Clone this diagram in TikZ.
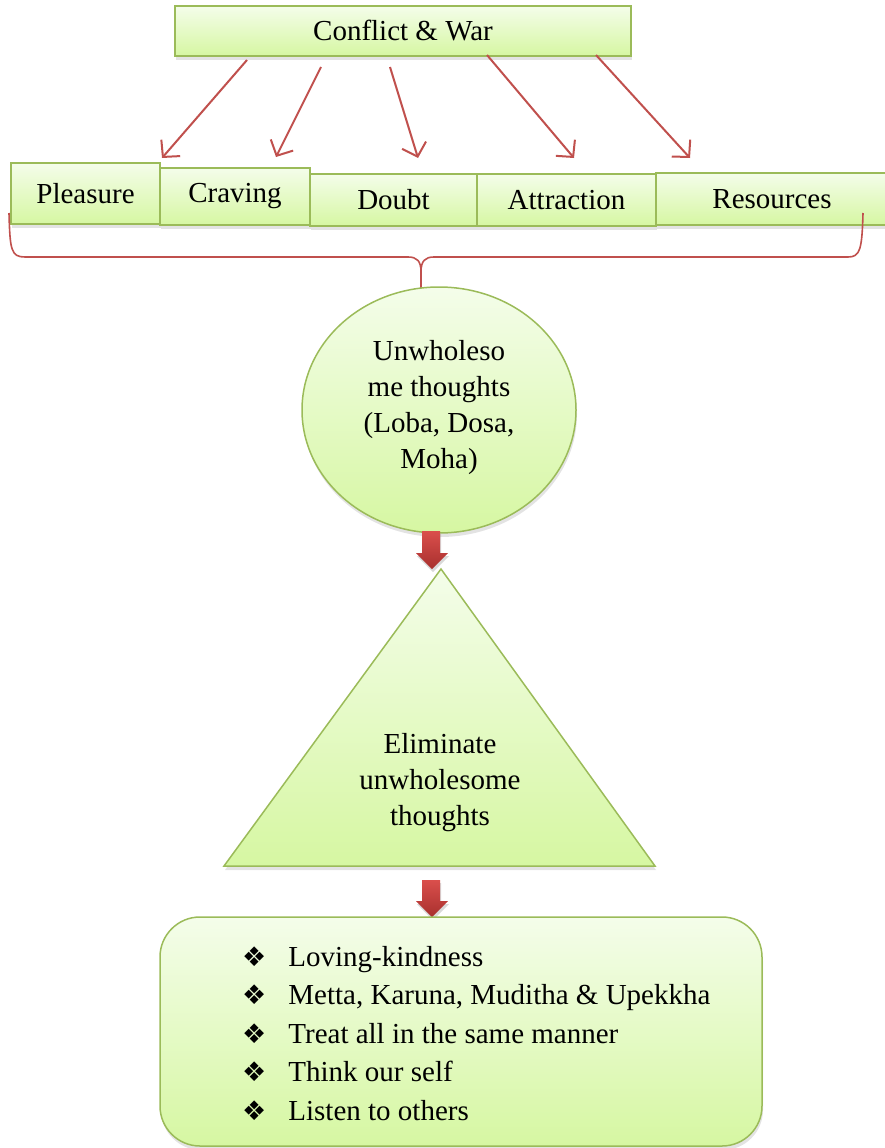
\documentclass[tikz,border=0pt]{standalone}
\usepackage{fontspec}
\setmainfont{Liberation Serif}
\newfontfamily\tnr{Liberation Serif}
\newfontfamily\symfont{DejaVu Sans}
\usetikzlibrary{arrows.meta,shapes.geometric,shadows}
\definecolor{gborder}{HTML}{9BBB59}
\definecolor{gtop}{HTML}{F4FDEA}
\definecolor{gbot}{HTML}{D6F7A2}
\definecolor{redline}{HTML}{C0504D}
\definecolor{redlight}{HTML}{DA4F4C}
\definecolor{reddark}{HTML}{A8302E}
\newcommand{\bul}{{\symfont\fontsize{27}{38.5}\selectfont ❖}\hspace{22pt}}
\tikzset{
  gshadow/.style={drop shadow={opacity=0.22,shadow xshift=1pt,shadow yshift=-4pt}},
  greenbox/.style={draw=gborder, line width=1.5pt, top color=gtop, bottom color=gbot,
    gshadow, font=\tnr\fontsize{29}{36}\selectfont, inner sep=0pt},
  redarrow/.style={draw=redline, line width=2pt,
    -{Straight Barb[length=12pt,width=25pt,line width=2pt]}},
  bracepath/.style={draw=redline, line width=1.6pt},
  blockarrow/.style={top color=redlight, bottom color=reddark, draw=none,
    drop shadow={opacity=0.3,shadow xshift=1pt,shadow yshift=-3pt}},
  bodytext/.style={font=\tnr\fontsize{29}{36}\selectfont, align=center, inner sep=0pt}
}
\begin{document}
\begin{tikzpicture}[x=1pt,y=-1pt]
\useasboundingbox (0,0) rectangle (885,1148);

% top box
\node[greenbox, minimum width=456pt, minimum height=50pt] (cw) at (403,31) {Conflict \& War};

% row of boxes
\node[greenbox, minimum width=149pt, minimum height=61pt] (pleasure) at (85.5,193.5) {Pleasure};
\node[greenbox, minimum width=150pt, minimum height=57pt] (craving) at (235,196.5) {Craving};
\node[greenbox, minimum width=167pt, minimum height=52pt] (doubt) at (393.5,200) {Doubt};
\node[greenbox, minimum width=179pt, minimum height=52pt] (attraction) at (566.5,200) {Attraction};
\node[greenbox, minimum width=232pt, minimum height=52pt] (resources) at (772,199) {Resources};

% arrows from Conflict & War
\coordinate (s1) at (247,60);  \coordinate (e1) at (162,158);
\coordinate (s2) at (321,67);  \coordinate (e2) at (276,157);
\coordinate (s3) at (390,67);  \coordinate (e3) at (418,158);
\coordinate (s4) at (487,55);  \coordinate (e4) at (574,158);
\coordinate (s5) at (596,55);  \coordinate (e5) at (690,158);
\draw[redarrow] (s1) -- (e1);
\draw[redarrow] (s2) -- (e2);
\draw[redarrow] (s3) -- (e3);
\draw[redarrow] (s4) -- (e4);
\draw[redarrow] (s5) -- (e5);

% brace
\draw[bracepath] (9,213) .. controls (10,250) and (11,257) .. (25,257) -- (408,257)
  .. controls (417,257) and (421,261) .. (421,272) -- (421,300);
\draw[bracepath] (863,213) .. controls (862,250) and (860,257) .. (848,257) -- (434,257)
  .. controls (425,257) and (421,261) .. (421,272);

% ellipse
\node[ellipse, draw=gborder, line width=1.5pt, top color=gtop, bottom color=gbot, gshadow,
  minimum width=274pt, minimum height=246pt, inner sep=0pt] (unwh) at (439,410) {};
\node[bodytext] (unwhtext) at (439,408) {Unwholeso\\me thoughts\\(Loba, Dosa,\\Moha)};

% block arrow 1
\path[blockarrow] (422,531) -- (440,531) -- (440,553) -- (448,553) -- (432,569)
  -- (416,553) -- (422,553) -- cycle;

% triangle
\path[draw=gborder, line width=1.5pt, top color=gtop, bottom color=gbot, gshadow]
  (441,569) -- (655,866) -- (224,866) -- cycle;
\node[bodytext] (elim) at (440,783) {Eliminate\\unwholesome\\thoughts};

% block arrow 2
\path[blockarrow] (422,880) -- (440,880) -- (440,901) -- (448,901) -- (432,917)
  -- (416,901) -- (422,901) -- cycle;

% bottom rounded box
\node[draw=gborder, line width=1.5pt, top color=gtop, bottom color=gbot, gshadow,
  rounded corners=40pt, minimum width=602pt, minimum height=229pt] (list) at (461,1031.5) {};
\node[anchor=north west, align=left, inner sep=0pt, font=\tnr\fontsize{29}{38.5}\selectfont] (items) at (242,946)
  {\bul Loving-kindness\\
   \bul Metta, Karuna, Muditha \& Upekkha\\
   \bul Treat all in the same manner\\
   \bul Think our self\\
   \bul Listen to others};
\end{tikzpicture}
\end{document}
